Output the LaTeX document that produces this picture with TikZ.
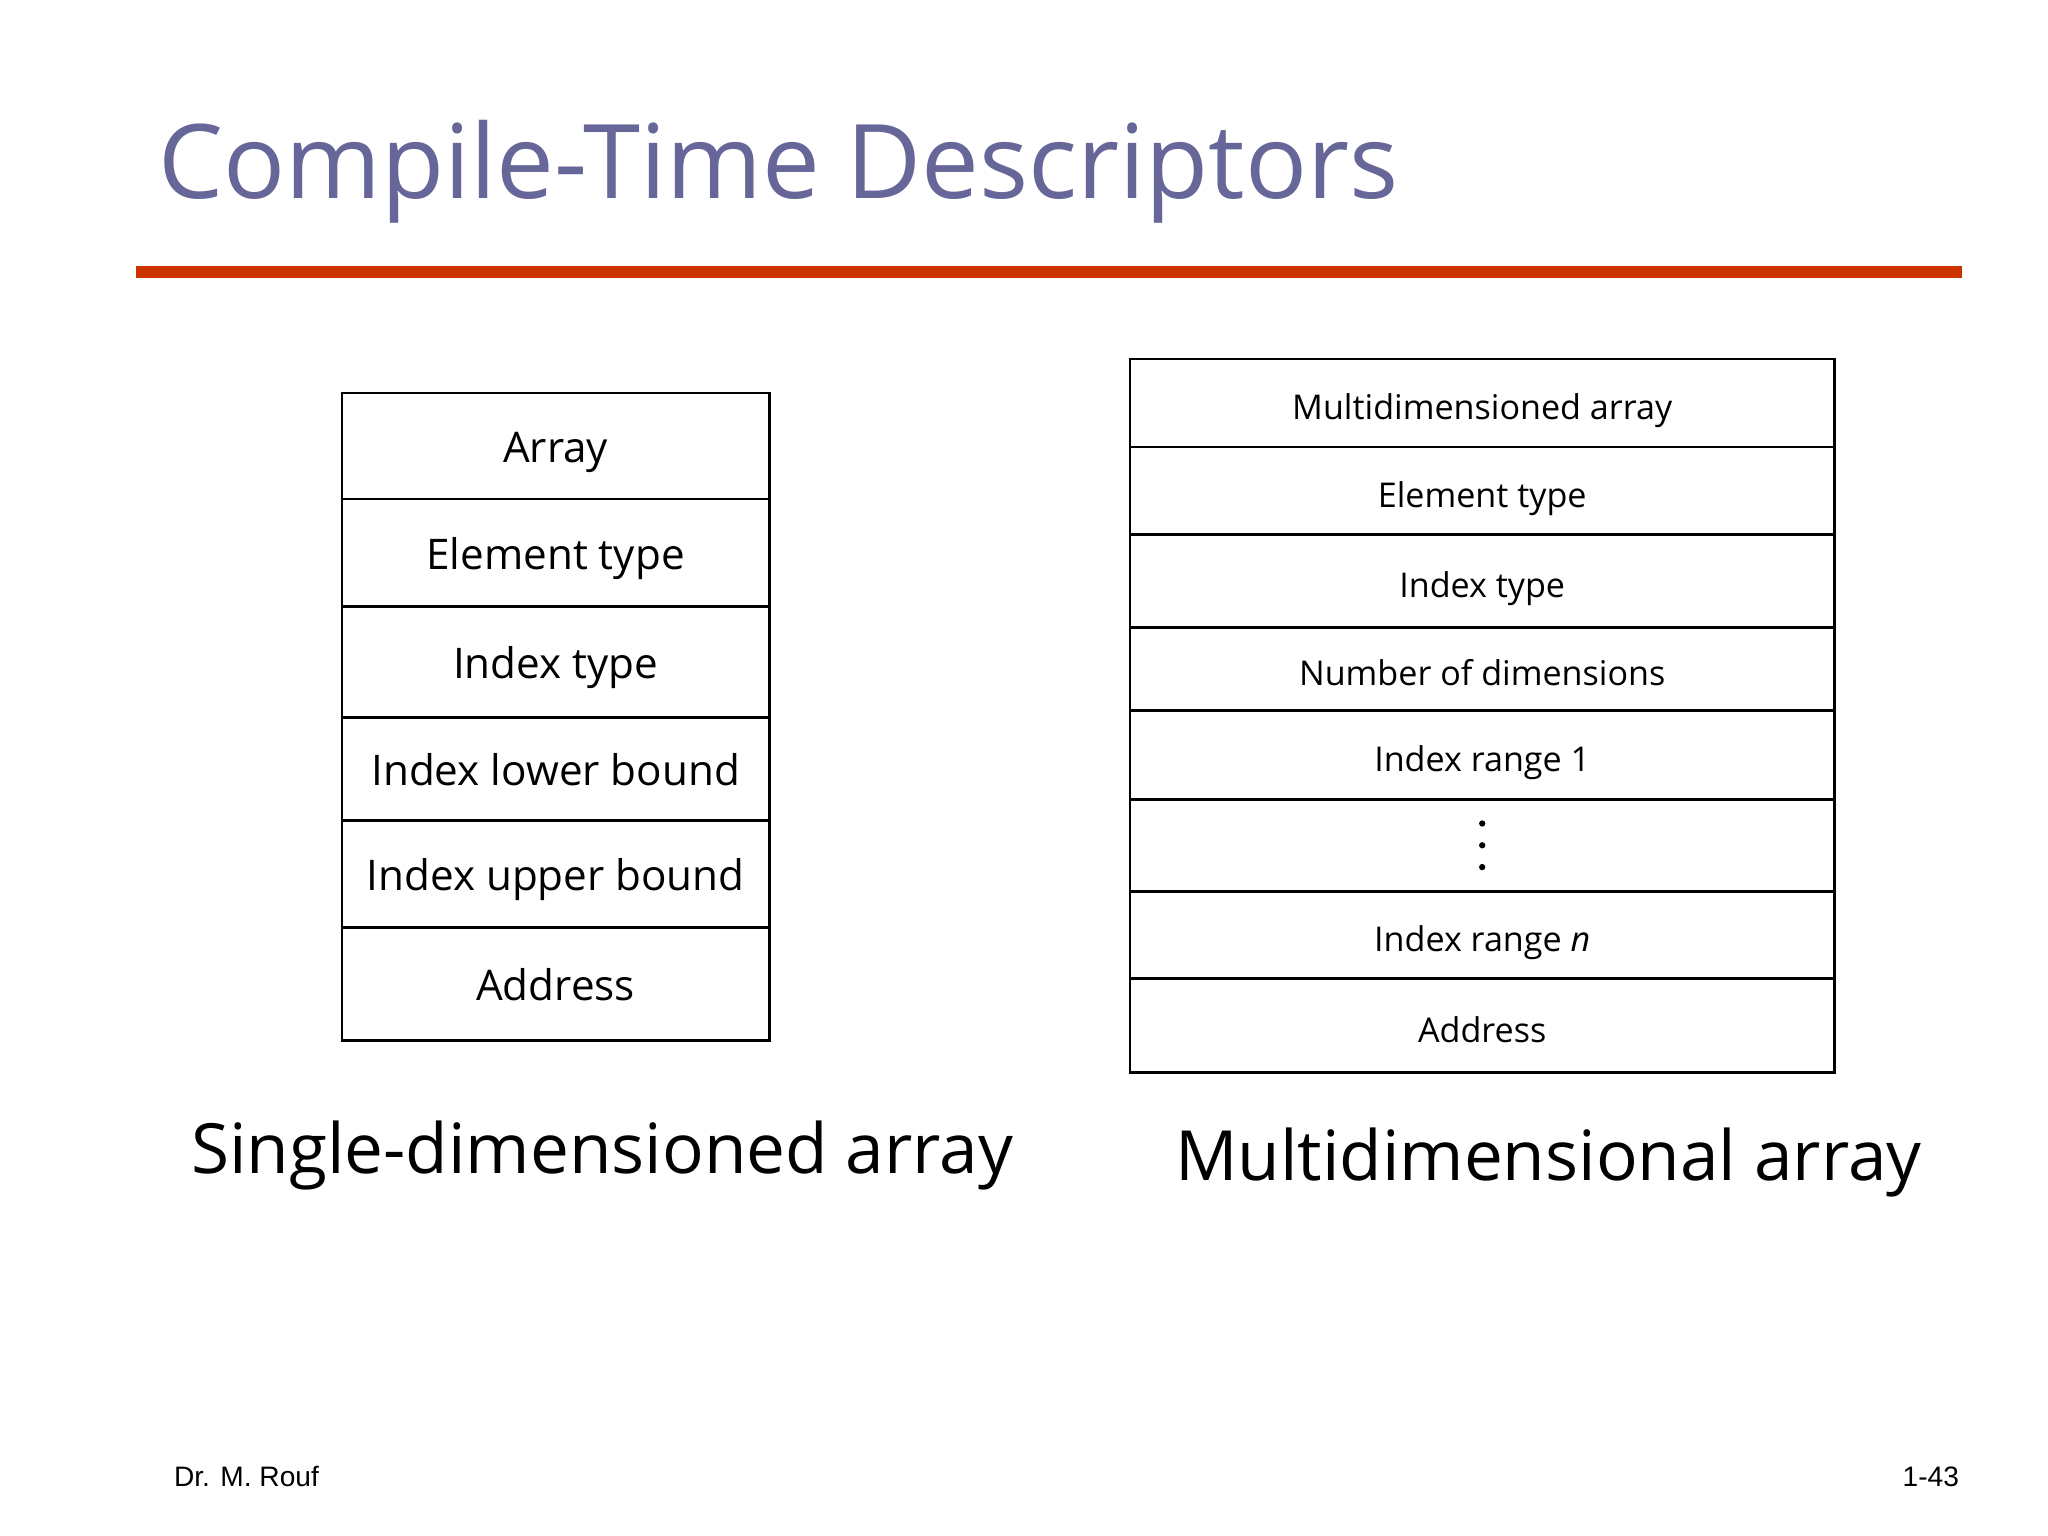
\documentclass[tikz,border=0pt]{standalone}
\usepackage{fontspec}
\setmainfont{Open Sans}
\newfontfamily\footfont{Liberation Sans}
\usetikzlibrary{positioning}
\definecolor{titleblue}{HTML}{666699}
\definecolor{rulered}{HTML}{CC3300}

\begin{document}
\begin{tikzpicture}[
            x = 0.01cm, y = -0.01cm, % one unit = one pixel of the slide
            node distance = 0pt, % rows sit on each other
            every node/.style = {inner sep = 0pt, outer sep = 0pt}
        ]

        \tikzset{
            lcell/.style = {draw, line width = 0.8pt, minimum width = 4.27cm,
                text height = 1.8ex, text depth = 0pt, font = \fontsize{12}{14}\selectfont},
            rcell/.style = {draw, line width = 0.8pt, minimum width = 7.04cm,
                text height = 1.8ex, text depth = 0pt, font = \fontsize{9.7}{12}\selectfont},
            caption/.style = {anchor = base west, font = \fontsize{19.7}{23}\selectfont},
            foot/.style = {font = \footfont\fontsize{8}{10}\selectfont}
        }

        \useasboundingbox (0,0) rectangle (2048,1536);

        % title and rule
        \node[anchor = base west, text = titleblue,
            font = \fontsize{29.3}{34}\selectfont] (title) at (158,198) {Compile-Time Descriptors};
        \fill[rulered] (136,266) rectangle (1962,278);

        % single-dimensioned descriptor
        \node[lcell, minimum height = 1.06cm, anchor = north west] (s1) at (342,393) {Array};
        \node[lcell, minimum height = 1.07cm] (s2) [below = of s1] {Element type};
        \node[lcell, minimum height = 1.11cm] (s3) [below = of s2] {Index type};
        \node[lcell, minimum height = 1.03cm] (s4) [below = of s3] {Index lower bound};
        \node[lcell, minimum height = 1.07cm] (s5) [below = of s4] {Index upper bound};
        \node[lcell, minimum height = 1.13cm] (s6) [below = of s5] {Address};

        % multidimensional descriptor
        \node[rcell, minimum height = 0.88cm, anchor = north west] (m1) at (1130,359) {Multidimensioned array};
        \node[rcell, minimum height = 0.87cm] (m2) [below = of m1] {Element type};
        \node[rcell, minimum height = 0.93cm] (m3) [below = of m2] {Index type};
        \node[rcell, minimum height = 0.83cm] (m4) [below = of m3] {Number of dimensions};
        \node[rcell, minimum height = 0.89cm] (m5) [below = of m4] {Index range 1};
        \node[rcell, minimum height = 0.92cm] (m6) [below = of m5] {};
        \node[rcell, minimum height = 0.87cm] (m7) [below = of m6] {Index range \textit{n}};
        \node[rcell, minimum height = 0.94cm] (m8) [below = of m7] {Address};

        \foreach \d in {-6.2pt, 0pt, 6.2pt}
            \fill ([yshift = \d]m6.center) circle (0.9pt);

        % captions
        \node[caption] (cap1) at (191,1173) {Single-dimensioned array};
        \node[caption] (cap2) at (1175,1180) {Multidimensional array};

        % footer
        \node[foot, anchor = base west] (author) at (174,1486) {Dr. M. Rouf};
        \node[foot, anchor = base east] (page) at (1959,1486) {1-43};

    \end{tikzpicture}
\end{document}
